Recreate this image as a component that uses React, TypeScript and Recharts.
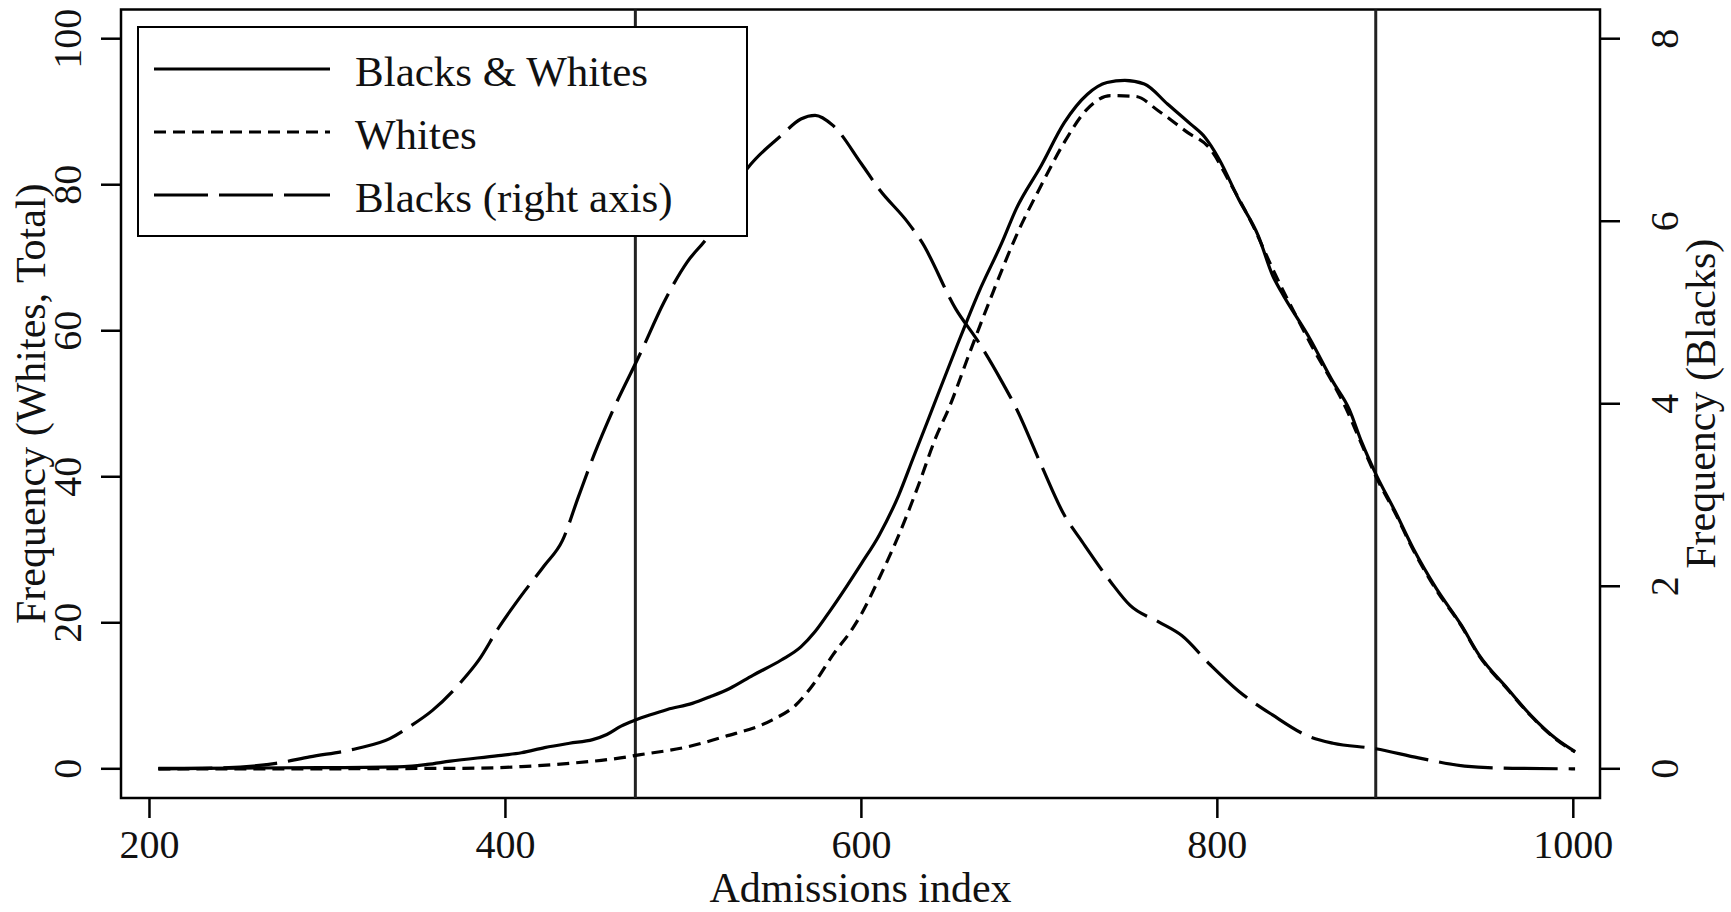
import React from 'react';
import { LineChart, Line, XAxis, YAxis, ReferenceLine, ReferenceArea, Legend } from 'recharts';

const FONT = '"Liberation Serif", "Times New Roman", serif';

// ---- data ----
const xTicks = [200, 400, 600, 800, 1000];
const leftTicks = [0, 20, 40, 60, 80, 100];
const rightTicks = [0, 2, 4, 6, 8];
const cutoffs = [473, 889];
const xLabel = 'Admissions index';
const leftLabel = 'Frequency (Whites, Total)';
const rightLabel = 'Frequency (Blacks)';
const seriesNames = ['Blacks & Whites', 'Whites', 'Blacks (right axis)'];

const totalIndex = [205, 250, 295, 343, 356, 369, 396, 409, 422, 436, 449, 457, 465, 473, 481, 491, 505, 515, 526, 539, 555, 566, 574, 582, 592, 600, 610, 621, 629, 637, 653, 666, 679, 687, 701, 714, 727, 738, 748, 759, 772, 785, 793, 801, 812, 823, 831, 836, 852, 865, 874, 881, 889, 900, 910, 923, 937, 947, 963, 976, 990, 1001];
const totalFreq = [0.05, 0.1, 0.15, 0.3, 0.6, 1.05, 1.8, 2.2, 2.9, 3.5, 4.0, 4.7, 5.85, 6.67, 7.36, 8.13, 8.96, 9.87, 11.0, 12.8, 14.9, 16.7, 18.8, 21.5, 25.1, 28.1, 32.0, 37.5, 42.5, 47.5, 57.5, 65.3, 72.1, 76.7, 82.6, 88.5, 92.4, 94.0, 94.3, 93.8, 91.05, 88.3, 86.5, 83.5, 78.0, 73.0, 67.6, 65.3, 58.9, 53.0, 49.3, 44.8, 40.4, 35.2, 30.2, 24.7, 19.7, 15.6, 11.0, 7.36, 4.17, 2.34];

const whitesIndex = [205, 300, 356, 383, 409, 436, 462, 475, 502, 523, 550, 563, 574, 584, 595, 600, 610, 621, 632, 642, 649, 661, 674, 687, 701, 714, 727, 740, 754, 767, 783, 796, 807, 820, 831, 852, 873, 881, 889, 900, 910, 923, 937, 947, 963, 976, 990, 1001];
const whitesFreq = [0, 0, 0.05, 0.08, 0.3, 0.75, 1.4, 1.9, 3.0, 4.4, 6.7, 8.7, 11.9, 15.6, 19.2, 21.2, 26.1, 32.0, 38.8, 45.5, 49.3, 57.1, 65.3, 73.0, 79.9, 85.8, 90.4, 92.2, 92.1, 90.1, 87.2, 84.9, 80.3, 74.4, 68.5, 58.4, 49.0, 44.5, 40.1, 35.0, 30.0, 24.5, 19.6, 15.5, 10.9, 7.3, 4.1, 2.3];

const blacksIndex = [205, 237, 271, 290, 316, 335, 346, 359, 375, 385, 396, 409, 422, 432, 441, 450, 460, 476, 489, 502, 513, 536, 555, 566, 574, 584, 600, 610, 626, 634, 653, 666, 679, 687, 701, 714, 724, 740, 751, 767, 780, 796, 812, 831, 852, 865, 889, 913, 939, 966, 1001];
const blacksFreq = [0, 0.007, 0.06, 0.13, 0.22, 0.33, 0.46, 0.64, 0.95, 1.19, 1.54, 1.9, 2.23, 2.5, 2.98, 3.45, 3.91, 4.56, 5.11, 5.55, 5.81, 6.58, 6.94, 7.12, 7.16, 7.05, 6.63, 6.35, 5.99, 5.77, 5.04, 4.67, 4.24, 3.95, 3.33, 2.78, 2.49, 2.05, 1.79, 1.61, 1.46, 1.14, 0.85, 0.59, 0.35, 0.28, 0.22, 0.12, 0.03, 0.005, 0];

const zip = (xs: number[], ys: number[]) => xs.map((x, i) => ({ x, v: ys[i] }));
const totalData = zip(totalIndex, totalFreq);
const whitesData = zip(whitesIndex, whitesFreq);
const blacksData = zip(blacksIndex, blacksFreq);

const DASH = ['', '12 7', '54 11'];
const LW = 3.2;
const INK = '#111';

const XTick = (props: any) => {
  const { x, y, payload } = props;
  return (
    <text x={x} y={y} textAnchor="middle" fontFamily={FONT} fontSize={40} fill={INK}>
      {payload.value}
    </text>
  );
};

const YTickRot = (props: any) => {
  const { x, y, payload } = props;
  return (
    <text transform={`translate(${x},${y}) rotate(-90)`} textAnchor="middle" fontFamily={FONT} fontSize={40} fill={INK}>
      {payload.value}
    </text>
  );
};

const XTitle = (props: any) => {
  const vb = props.viewBox || {};
  return (
    <text x={vb.x + vb.width / 2} y={vb.y + 104} textAnchor="middle" fontFamily={FONT} fontSize={42} fill={INK}>
      {xLabel}
    </text>
  );
};

const LeftTitle = (props: any) => {
  const vb = props.viewBox || {};
  return (
    <text transform={`translate(${vb.x + 45},${vb.y + vb.height / 2}) rotate(-90)`} textAnchor="middle" fontFamily={FONT} fontSize={42} fill={INK}>
      {leftLabel}
    </text>
  );
};

const RightTitle = (props: any) => {
  const vb = props.viewBox || {};
  return (
    <text transform={`translate(${vb.x + 115},${vb.y + vb.height / 2}) rotate(-90)`} textAnchor="middle" fontFamily={FONT} fontSize={42} fill={INK}>
      {rightLabel}
    </text>
  );
};

const LegendBox = () => (
  <svg width={611} height={211} style={{ display: 'block' }}>
    <rect x={1} y={1} width={609} height={209} fill="#fff" stroke="#000" strokeWidth={2} />
    {seriesNames.map((n, i) => (
      <g key={n}>
        <line x1={17} x2={193} y1={43 + i * 63} y2={43 + i * 63} stroke="#000" strokeWidth={LW} strokeDasharray={DASH[i] || undefined} />
        <text x={218} y={60 + i * 63} fontFamily={FONT} fontSize={43} fill={INK}>
          {n}
        </text>
      </g>
    ))}
  </svg>
);

export default function App() {
  return (
    <div style={{ width: 1731, height: 912, background: '#fff' }}>
      <style>{`body{margin:0;background:#fff}`}</style>
      <LineChart width={1731} height={912} margin={{ top: 9.5, right: 0, bottom: 0, left: 0 }}>
        <XAxis
          dataKey="x"
          type="number"
          domain={[184, 1015]}
          ticks={xTicks}
          allowDataOverflow
          height={114}
          axisLine={false}
          tickSize={20}
          tickMargin={40}
          tickLine={{ stroke: '#000', strokeWidth: 2.5 }}
          tick={<XTick />}
          label={<XTitle />}
        />
        <YAxis
          yAxisId="left"
          orientation="left"
          domain={[-4, 104]}
          ticks={leftTicks}
          allowDataOverflow
          width={121}
          axisLine={false}
          tickSize={20}
          tickMargin={20}
          tickLine={{ stroke: '#000', strokeWidth: 2.5 }}
          tick={<YTickRot />}
          label={<LeftTitle />}
        />
        <YAxis
          yAxisId="right"
          orientation="right"
          domain={[-0.32, 8.32]}
          ticks={rightTicks}
          allowDataOverflow
          width={131}
          axisLine={false}
          tickSize={20}
          tickMargin={58}
          tickLine={{ stroke: '#000', strokeWidth: 2.5 }}
          tick={<YTickRot />}
          label={<RightTitle />}
        />
        {cutoffs.map((c) => (
          <ReferenceLine key={c} x={c} yAxisId="left" stroke="#222" strokeWidth={3} />
        ))}
        <Line data={totalData} dataKey="v" yAxisId="left" type="monotone" stroke="#000" strokeWidth={LW} dot={false} isAnimationActive={false} name={seriesNames[0]} />
        <Line data={whitesData} dataKey="v" yAxisId="left" type="monotone" stroke="#000" strokeWidth={LW} strokeDasharray={DASH[1]} dot={false} isAnimationActive={false} name={seriesNames[1]} />
        <Line data={blacksData} dataKey="v" yAxisId="right" type="monotone" stroke="#000" strokeWidth={LW} strokeDasharray={DASH[2]} dot={false} isAnimationActive={false} name={seriesNames[2]} />
        <ReferenceArea x1={184} x2={1015} y1={-4} y2={104} yAxisId="left" fill="none" fillOpacity={0} stroke="#000" strokeWidth={2.5} />
        <Legend
          layout="horizontal"
          verticalAlign="middle"
          align="center"
          content={<LegendBox />}
          wrapperStyle={{ position: 'absolute', left: 137, top: 26, width: 611, height: 211 }}
        />
      </LineChart>
    </div>
  );
}
